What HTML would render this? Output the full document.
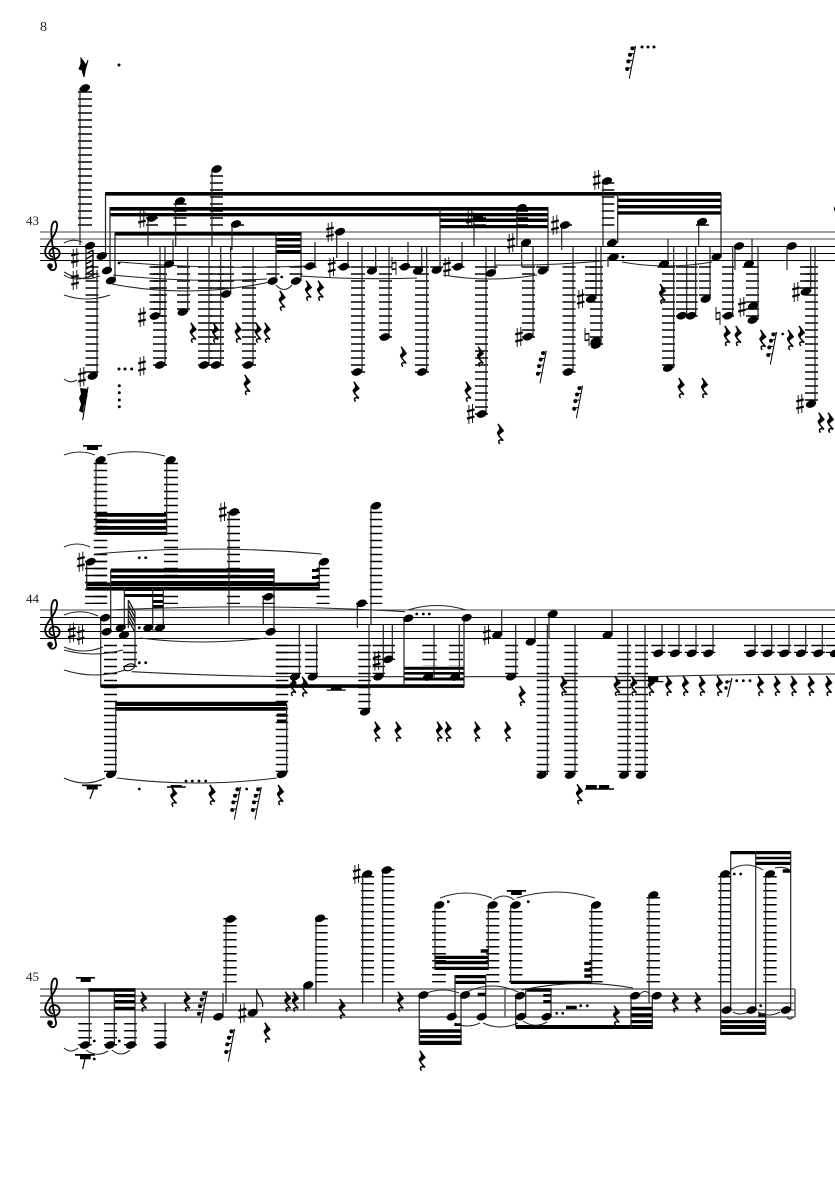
<!DOCTYPE html>
<html><head><meta charset="utf-8"><style>
html,body{margin:0;padding:0;background:#fff}
svg{display:block}
.S{stroke:#444;stroke-width:1;fill:none}
.B{stroke:#000;stroke-width:1;fill:none}
.G{stroke:#666;stroke-width:1.1;fill:none}
.s{stroke:#222;stroke-width:1.2;fill:none}
.L{stroke:#000;stroke-dasharray:1.5 5.5;fill:none}
.t{stroke:#222;stroke-width:1.05;fill:none}
.b{fill:#000;stroke:none}
text{font-family:"Liberation Serif",serif;fill:#222}
</style></head><body>
<svg xmlns="http://www.w3.org/2000/svg" width="835" height="1181" viewBox="0 0 835 1181">
<defs>
<g id="n"><ellipse rx="5.3" ry="3.6" transform="rotate(-20)"/></g>
<g id="h"><ellipse rx="5.4" ry="3.1" transform="rotate(-20)" fill="none" stroke="#000" stroke-width="1.1"/></g>
<g id="r"><path d="M-2-10L3.2-3.2C1.2-1.2-2-.4-1 1.8L3.2 6.6C.4 5.2-3 6-.2 10" fill="none" stroke="#000" stroke-width="1.5"/><path d="M-2-9L3.6-3C1.5-1-1 0-.5 2L3 6C-.5 3.5-3.8 0-3-1.8-2-3.8.8-3.4-2-9z"/></g>
<g id="x"><path d="M-1.8-9V10M1.8-10V9" stroke="#000" stroke-width=".9" fill="none"/><path d="M-3.8-2.6L3.8-4.6M-3.8 4.6L3.8 2.6" stroke="#000" stroke-width="2.2" fill="none"/></g>
<g id="y"><path d="M-2-9V4M2-4V9" stroke="#000" stroke-width=".9" fill="none"/><path d="M-2-2.6L2-3.6M-2 3.6L2 2.6" stroke="#000" stroke-width="1.5" fill="none"/></g>
<g id="q"><path d="M4.6-16L-1.7 16.6" stroke="#000" stroke-width="1" fill="none"/><path d="M1-14L4-15M-1.6-7.7L2.6-8.5M-3.3-1L1.2-1.8M-4.3 6.6L0 5.8" stroke="#000" stroke-width="1" fill="none"/><circle cx="1.4" cy="-13.6" r="2"/><circle cx="-1" cy="-7.2" r="2"/><circle cx="-2.7" cy="-.6" r="2"/><circle cx="-3.8" cy="7" r="2"/></g>
<g id="c"><path d="M0 4C-5 3-5-4 1-5 8-5 9 5 1 6-7 7-10 0-6-7-3-13 3-18 4-26 4.5-32 1-34-1-28-3-22 0 0 3 12 4 18-3 19-4 14" fill="none" stroke="#000" stroke-width="1.8"/><circle cx="-3" cy="13" r="2.8"/></g>
</defs>
<rect width="835" height="1181" fill="#fff"/>
<text x="40" y="31" font-size="14">8</text>
<text x="26" y="225" font-size="13">43</text>
<text x="26" y="603" font-size="13">44</text>
<text x="26" y="981" font-size="13">45</text>
<!-- staves -->
<path class="S" d="M40 232H835M40 239H835"/>
<path class="B" d="M40 246.5H835M40 253.5H835M40 260.5H835"/>
<path class="S" d="M40 610H835"/>
<path class="B" d="M40 617.5H835M40 624.5H835M40 631.5H835M40 638.5H835"/>
<path class="G" d="M40 989H795M40 996H795M40 1003H795M40 1010H795M40 1017H795M795 989V1017M505 989V1017" style="stroke-width:1.6"/>
<use href="#c" x="53" y="253"/><use href="#c" x="53" y="631.5"/><use href="#c" x="53" y="1010"/>
<!-- ledger system 1 -->
<g class="L">
<path stroke-width="14" d="M85 91.3V226"/><path stroke-width="12" d="M152 217.3V226"/><path stroke-width="13" d="M180 203.3V226"/><path stroke-width="13" d="M216.5 175.3V226"/><path stroke-width="13" d="M237.5 224.3V226"/>
<path stroke-width="13" d="M92 266.3V373"/><path stroke-width="15" d="M157 266.3V317"/><path stroke-width="14" d="M160 266.3V366"/><path stroke-width="13" d="M183.5 266.3V310"/><path stroke-width="14" d="M205 266.3V366"/><path stroke-width="14" d="M217 266.3V366"/><path stroke-width="16" d="M226 266.3V289"/><path stroke-width="14" d="M249 266.3V366"/>
<path stroke-width="14" d="M358 266.3V373"/><path stroke-width="13" d="M385.5 266.3V338"/><path stroke-width="14" d="M422 266.3V373"/><path stroke-width="13" d="M481.5 266.3V415"/><path stroke-width="13" d="M528.5 266.3V338"/><path stroke-width="13" d="M569 266.3V373"/><path stroke-width="12" d="M591 266.3V296"/><path stroke-width="13" d="M596.5 266.3V345"/>
<path stroke-width="13" d="M668.5 266.3V366"/><path stroke-width="12" d="M682 266.3V317"/><path stroke-width="12" d="M691.7 266.3V317"/><path stroke-width="12" d="M705 266.3V296"/><path stroke-width="12" d="M728 266.3V317"/><path stroke-width="13" d="M752.5 266.3V317"/><path stroke-width="13" d="M806.5 266.3V289"/><path stroke-width="13" d="M811.5 266.3V401"/>
<path stroke-width="13" d="M479.5 217.3V226"/><path stroke-width="12" d="M522 210.3V226"/><path stroke-width="12.6" d="M608 182.3V226"/><path stroke-width="12" d="M566 224.3V226"/><path stroke-width="13" d="M702.5 224.3V226"/>
<path stroke-width="13" d="M273 266.3V275M296 266.3V275"/><path stroke-width="13" d="M310 266.3V268M344 266.3V268M372 266.3V268M405 266.3V268M418 266.3V268M436.7 266.3V268M458 266.3V268M491 266.3V268M542.7 266.3V268M664 266.3V268M749 266.3V268"/>
</g>
<!-- ledger system 2 -->
<g class="L">
<path stroke-width="13.5" d="M100.5 462.8V604"/><path stroke-width="14" d="M171 462.8V604"/><path stroke-width="22" d="M96 560.8V604"/><path stroke-width="13" d="M323 567.8V604"/><path stroke-width="13" d="M233.5 511.8V604"/><path stroke-width="13" d="M268.5 595.8V604"/><path stroke-width="12.5" d="M376 511.8V604"/><path stroke-width="12" d="M362 602.8V604"/>
<path stroke-width="13" d="M110.5 644.8V772"/><path stroke-width="12.5" d="M282 644.8V772"/><path stroke-width="14" d="M130 644.8V667"/><path stroke-width="25" d="M288.7 644.8V674"/><path stroke-width="13" d="M311.5 644.8V674"/><path stroke-width="12.5" d="M364.5 644.8V709"/><path stroke-width="12.5" d="M378.8 644.8V674"/><path stroke-width="13" d="M388.5 644.8V660"/><path stroke-width="13" d="M511.7 644.8V674"/><path stroke-width="12.5" d="M543 644.8V772"/><path stroke-width="13.5" d="M571 644.8V772"/><path stroke-width="13.3" d="M624.3 644.8V772"/><path stroke-width="13" d="M641.5 644.8V772"/>
<path stroke-width="14.4" d="M429.5 644.8V666"/><path stroke-width="14" d="M456 644.8V666"/>
<path stroke-width="14" d="M658.3 644.8V653M675 644.8V653M691.7 644.8V653M708.3 644.8V653M751 644.8V653M767.7 644.8V653M784.3 644.8V653M801 644.8V653M818.3 644.8V653M833 644.8V653"/>
</g>
<!-- ledger system 3 -->
<g class="L">
<path stroke-width="13.4" d="M230 918V982.4"/><path stroke-width="12.7" d="M321.3 918V982.4"/><path stroke-width="13" d="M367.5 876V982.4"/><path stroke-width="12.6" d="M388 869V982.4"/>
<path stroke-width="13.7" d="M439 911V982.4"/><path stroke-width="13.3" d="M492.7 911V982.4"/><path stroke-width="13.3" d="M515.7 911V982.4"/><path stroke-width="13.3" d="M596 911V982.4"/><path stroke-width="13.3" d="M653.3 897V982.4"/><path stroke-width="12.7" d="M724.7 876V982.4"/><path stroke-width="13.3" d="M770 876V982.4"/>
<path stroke-width="13.4" d="M85 1023V1046"/><path stroke-width="13" d="M110.5 1023V1046"/><path stroke-width="12.7" d="M130.5 1023V1046"/><path stroke-width="12.7" d="M160.5 1023V1046"/>
</g>
<!-- beams -->
<path class="b" d="M105 192h616v3.6H105zM618 198.6h103v3.4H618zM618 205h103v3.4H618zM618 211.2h103v3.4H618z
M110 207h438v3.6H110zM110 213h438v3.4H110zM440 218.5h108v3.5H440zM440 225h108v3.2H440z
M115 232h186v3.6H115zM276 238h25v3.4h-25zM276 244.4h25v3.4h-25zM276 250h25v3.6h-25z
M96 513h70.7v3.7H96zM96 519.4h70.7v3.8H96zM96 526h70.7v3.8H96zM96 531.7h70.7v3.3H96z
M110.7 568.5h164v4h-164zM110.7 575h164v3.4h-164zM110.7 581h164v2h-164zM86.7 582.5H320v3.8H86.7zM86.7 587H320v3.6H86.7zM312 569h7.3v3h-7.3zM312 576h7.3v3h-7.3z
M124.3 588h39v3h-39zM124.3 594h39v3h-39zM152.7 600h10.6v3h-10.6zM152.7 605h10.6v3h-10.6z
M100.7 684.3H464v3.6H100.7zM404 666.7h60v3h-60zM404 672h60v2.6h-60zM404 677.5h60v3h-60z
M115.7 701.7h171v4.3h-171zM115.7 707h171v3.7h-171zM277 713.5h9.7v3.2H277zM277 719.5h9.7v3.2H277z
M88.3 988.3H135v3.4H88.3zM114.3 994H135v3.3h-20.7zM114.3 1000H135v3.3h-20.7zM114.3 1006.7H135v3.3h-20.7z
M419.3 1029.3h42.4v3.4h-42.4zM419.3 1035h42.4v3.3h-42.4zM419.3 1040.7h42.4v4.3h-42.4zM455 975h30.7v3.3H455zM455 980.7h30.7v3.3H455zM477.7 992.7h8v3.3h-8zM454.3 1023.3h7.4v2.7h-7.4z
M435 955.7h53.3v3.3H435zM435 960.7h53.3v3.6H435zM435 966.7h53.3v3.3H435zM480.7 949.3h7.6v3.4h-7.6z
M510.7 980.7h81v3.3h-81zM584.3 961.7h7.4v3.3h-7.4zM584.3 968.3h7.4v3.4h-7.4zM584.3 974.3h7.4v3.4h-7.4z
M515.7 1025h137v4h-137zM526.7 988.3h25v3.4h-25zM543.3 994h7.7v2.7h-7.7zM543.3 1000h7.7v3h-7.7zM631 1006.7h21.7v3.3H631zM631 1013.3h21.7v3.4H631zM631 1020h21.7v3.3H631z
M730.7 851h60v3.3h-60zM755.7 856.7h35v2.6h-35zM755.7 861.7h35v3.3h-35zM782.7 869.3h8v3.4h-8z
M720.7 1020h45v3.3h-45zM720.7 1025h45v4h-45zM720.7 1031.7h45v3.3h-45zM758.3 1013.3h7.7v3.4h-7.7z
M83 445h19v1.6H83zM87 446.5h11v3.5H87zM82 784.5h19.7v1.6H82zM86.7 786h11v3.5h-11zM167 786.3h18.7v1.4H167zM170.7 785h11v2h-11zM326.7 689.5h19v1.3h-19zM331 687.7h10.7v2h-10.7zM648 677h10.3v4H648zM648 681h15.3v1.3H648zM586 785h10.7v3.3H586zM599 785h10.3v3.3H599zM585 788.3h29v1.4h-29zM76 977h19v1.6H76zM80.7 978.5h10v3.5h-10zM75 1054h20v1.7H75zM80 1055.7h10.7v3.6H80zM506.7 890h19.3v1.7h-19.3zM511 891.7h10.7v3.3H511zM566 1005.7h10.7v3.6H566z"/>
<path d="M94 788L90 799M85 1059L82.7 1069" stroke="#000" stroke-width="1.2" fill="none"/>
<!-- stems -->
<path class="s" d="M80 88V245M105.5 193V257M110 207V271M115 232V281M148 218V246M160 316V246M165 365V246M173 264V240M175.7 201V246M187.7 312V246M212 169V246M209 365V246M220.7 365V246M230.7 294V246M232 224V250M253 365V246M276 232V281M301 232V281M315 266V242M336.7 232V258M348 267V242M362 372V246M375.7 271V246M389 337V246M408 267V242M421.7 271V246M426.7 372V246M440 207V270M462 267V242M474 217V246M486 414V246M495 273V246M517 208V246M521.7 243V267M533 337V246M548 207V271M561.7 225V250M573 372V246M596 299V246M601 345V246M603 181V246M608 257V267M617.7 193V243M668 264V239M673.7 368V246M686.7 316V246M695.7 316V246M710 299V246M698.7 222V246M721 193V257M732.7 316V246M735 246V270M752 264V239M758 320V246M787 246V270M810.7 292V246M815 404V246M97 376V270M86 246V278"/>
<path class="s" d="M96 460V535M166.7 460V535M86.7 562V590M110.7 570V632M100.7 617V687M124.3 628V588M152.7 628V588M163.3 628V588M135 667V612M128.3 600V628M229 512V624.5M263.3 597V624M274 632V570M319.3 562V590M299.3 677V624.5M316.7 677V624.5M286.7 774V704M115.7 774V702M357.3 603V628M371 506V624.5M369 712V624.5M383.3 677V624.5M392.3 659V624.5M404 618V688M434 677V624.5M459.3 677V624.5M464 618V687M501.7 635V610.5M515.7 677V624.5M535 642V617M547.3 775V625M549 614V638M575 775V625M612 635V610.5M627.7 775V625M645 775V625M662 653V625M679 653V625M696 653V625M713 653V625M755 653V625M771.7 653V625M789 653V625M805.7 653V625M822.3 653V625"/>
<path class="s" d="M89.3 988V1045M114.3 988V1045M135 988V1045M165 1045V1003M223 1017V993M226 919V1003M256.7 1013V989M304 985V1010M316 918V1003M362.7 874V1003M382.7 870V1003M419.3 995V1045M455 1017V975M461 995V1045M485.7 1017V975M435 905V970M488.3 905V970M510.7 905V982M591.7 905V983M515.7 995V1027M525.7 1017V988M551 1017V988M631 995V1029M652.3 995V1029M649 895V1003M720.7 874V1035M730.7 1010V851M755.7 1010V851M765.7 874V1035M790.7 1010V851"/>
<path d="M256.7 990C258 997 264 999 262.5 1007" stroke="#000" stroke-width="1.2" fill="none"/>
<!-- hatched flags -->
<path d="M86 254L93 250M86 259L93 255M86 264L93 260M86 269L93 265M86 274L93 270M86 278L93 275M93 250V278" stroke="#000" stroke-width="1.4" fill="none"/>
<path d="M128.3 600L135 612M128.3 605L135 617M128.3 610L135 622M128.3 615L135 627M128.3 620L135 632" stroke="#222" stroke-width="1.4" fill="none"/>
<!-- ties -->
<g class="t">
<path d="M64 243Q73 238 82 242M64 272Q82 283 100 276M64 275Q77 284 97 273M64 295Q87 303 110 295M64 379Q70 384 77 380"/>
<path d="M120 262Q212 270 305 266M113 275Q190 283 267 279M112 284Q190 299 270 282M276 285Q284 294 292 285M300 276Q358 280 417 278M443 275Q490 283 537 275M495 265Q553 266 612 260M622 262Q667 270 712 262"/>
<path d="M64 615Q81 608 98 616M64 647Q83 655 103 647M64 650Q93 658 123 650M64 670Q95 680 125 670M64 455Q80 449 95 455M64 547Q77 541 90 547M64 778Q85 788 105 778M107 455Q136 448 165 456M116.7 778Q197 788 276.7 778M95 554Q208 544 321.7 554M110 610Q258 603 405 611.7M140 638Q203 646 266 638M149 628Q154 632 159 628M131.7 671.7Q212 676 293 676.7M317 676.7H404M464 676.7H650M648 676.7Q742 674 835 674M408 610Q437 601 466 610"/>
<path d="M64 1048Q71 1054 78 1048M86 1050Q97 1058 108 1051M112 1050Q121 1058 130 1050M440 898Q466 888 492 898M493.3 900Q504 892 514.3 900M516.7 898Q556 886 595 898M426.7 993Q443 987 459 993M466.7 992Q492 980 518 992M521.7 990Q577 978 633 988M455 1023Q467 1029 480 1023M483 1023Q500 1031 518 1023M523 1021Q535 1029 547 1022M640 994Q645 989 650 994M733 1012Q740 1016 748 1012M758 1012Q769 1018 780 1012M730 870Q746 860 763 870M775 868Q783 866 790 870M787 1017Q790 1021 793 1017"/>
</g>
<!-- accidentals -->
<g>
<use href="#x" x="75" y="258"/><use href="#x" x="75" y="280"/><use href="#x" x="82" y="377"/><use href="#x" x="142" y="218"/><use href="#x" x="142" y="317"/><use href="#x" x="142" y="366"/><use href="#x" x="330" y="232"/><use href="#x" x="331.7" y="267"/><use href="#y" x="394" y="266"/><use href="#x" x="447" y="267"/><use href="#x" x="470" y="218"/><use href="#x" x="470.7" y="414"/><use href="#x" x="511" y="243"/><use href="#x" x="519" y="337"/><use href="#x" x="555" y="225"/><use href="#x" x="580.7" y="299"/><use href="#y" x="587" y="337"/><use href="#x" x="596.7" y="180"/><use href="#y" x="718" y="316"/><use href="#x" x="742" y="307"/><use href="#x" x="796" y="292"/><use href="#x" x="800" y="404"/>
<use href="#x" x="71.7" y="632.7"/><use href="#x" x="80.7" y="635"/><use href="#x" x="81" y="561.7"/><use href="#x" x="222.7" y="512"/><use href="#x" x="376.7" y="660.7"/><use href="#x" x="486.7" y="635"/>
<use href="#x" x="242.3" y="1013.3"/><use href="#x" x="356.7" y="874"/>
</g>
<!-- notes system 1 -->
<g>
<use href="#n" x="85" y="88"/><use href="#n" x="90" y="245.7"/><use href="#n" x="92.7" y="376"/><use href="#n" x="101.7" y="256"/><use href="#n" x="107" y="270.5"/><use href="#n" x="111" y="280.5"/><use href="#n" x="152" y="218"/><use href="#n" x="155" y="316"/><use href="#n" x="160" y="365"/><use href="#n" x="169" y="264"/><use href="#n" x="180" y="201"/><use href="#n" x="182.7" y="312"/><use href="#n" x="216.7" y="169"/><use href="#n" x="204" y="365"/><use href="#n" x="216" y="365"/><use href="#n" x="226" y="294"/><use href="#n" x="236" y="224"/><use href="#n" x="248" y="365"/><use href="#n" x="272.7" y="281"/><use href="#n" x="296" y="281"/><use href="#n" x="310" y="266"/><use href="#n" x="340" y="231.7"/><use href="#n" x="344" y="266.7"/><use href="#n" x="357" y="372"/><use href="#n" x="372" y="270.7"/><use href="#n" x="385" y="337"/><use href="#n" x="405" y="266.7"/><use href="#n" x="418" y="270.7"/><use href="#n" x="422" y="372"/><use href="#n" x="436.7" y="270"/><use href="#n" x="458" y="266.7"/><use href="#n" x="478" y="217"/><use href="#n" x="481.7" y="414"/><use href="#n" x="491" y="273"/><use href="#n" x="521.7" y="207.7"/><use href="#n" x="526" y="242.7"/><use href="#n" x="528" y="336.7"/><use href="#n" x="542.7" y="270.7"/><use href="#n" x="565" y="225"/><use href="#n" x="568" y="372"/><use href="#n" x="591" y="299"/><use href="#n" x="595.7" y="341"/><use href="#n" x="596" y="345"/><use href="#n" x="607" y="181"/><use href="#n" x="612" y="243"/><use href="#n" x="613.6" y="257"/><use href="#n" x="664" y="264"/><use href="#n" x="668" y="368"/><use href="#n" x="681.7" y="315.7"/><use href="#n" x="691" y="315.7"/><use href="#n" x="705.7" y="299"/><use href="#n" x="702" y="221.7"/><use href="#n" x="716.7" y="256.7"/><use href="#n" x="728" y="315.7"/><use href="#n" x="739" y="246"/><use href="#n" x="749" y="264"/><use href="#n" x="753" y="306"/><use href="#n" x="752.7" y="320"/><use href="#n" x="791.7" y="246"/><use href="#n" x="805.7" y="291.7"/><use href="#n" x="811" y="404"/><use href="#n" x="839" y="208"/>
</g>
<!-- notes system 2 -->
<g>
<use href="#n" x="100.7" y="460"/><use href="#n" x="170.7" y="460"/><use href="#n" x="90.7" y="561.7"/><use href="#n" x="105" y="617.7"/><use href="#n" x="106.7" y="631.7"/><use href="#n" x="120.7" y="627.7"/><use href="#n" x="124" y="635"/><use href="#n" x="148.3" y="627.7"/><use href="#n" x="160" y="627.7"/><use href="#h" x="129.3" y="667.3"/><use href="#n" x="324" y="561.7"/><use href="#n" x="234" y="512"/><use href="#n" x="268.3" y="596.7"/><use href="#n" x="270.7" y="631.7"/><use href="#n" x="295" y="676.7"/><use href="#n" x="312.7" y="676.7"/><use href="#n" x="281.7" y="774.3"/><use href="#n" x="111" y="774.3"/><use href="#n" x="361.7" y="603.3"/><use href="#n" x="376" y="505.7"/><use href="#n" x="365" y="711.7"/><use href="#n" x="378.3" y="676.7"/><use href="#n" x="388.3" y="659.3"/><use href="#n" x="408.3" y="618.3"/><use href="#n" x="428" y="677"/><use href="#n" x="455" y="677"/><use href="#n" x="466.7" y="617.7"/><use href="#n" x="497.3" y="635"/><use href="#n" x="511" y="676.7"/><use href="#n" x="530.7" y="641.7"/><use href="#n" x="541.7" y="775"/><use href="#n" x="552.7" y="614"/><use href="#n" x="570" y="775"/><use href="#n" x="607.7" y="635"/><use href="#n" x="624" y="775"/><use href="#n" x="641" y="775"/>
<use href="#n" x="658.3" y="653.3"/><use href="#n" x="675" y="653.3"/><use href="#n" x="691.7" y="653.3"/><use href="#n" x="708.3" y="653.3"/><use href="#n" x="751" y="653.3"/><use href="#n" x="767.7" y="653.3"/><use href="#n" x="784.3" y="653.3"/><use href="#n" x="801" y="653.3"/><use href="#n" x="818.3" y="653.3"/><use href="#n" x="835" y="653.3"/>
</g>
<!-- notes system 3 -->
<g>
<use href="#n" x="85" y="1045"/><use href="#n" x="110" y="1045"/><use href="#n" x="131" y="1045"/><use href="#n" x="160.7" y="1045"/><use href="#n" x="218.3" y="1016.7"/><use href="#n" x="230.7" y="919"/><use href="#n" x="252.7" y="1012.7"/><use href="#n" x="308.3" y="985"/><use href="#n" x="320" y="918.3"/><use href="#n" x="367.3" y="874"/><use href="#n" x="386.7" y="870"/>
<use href="#n" x="423.3" y="995"/><use href="#n" x="451.7" y="1016.7"/><use href="#n" x="465" y="995"/><use href="#n" x="481.7" y="1016.7"/><use href="#n" x="439.3" y="905"/><use href="#n" x="492.7" y="905"/><use href="#n" x="515.7" y="905"/><use href="#n" x="596" y="905"/><use href="#n" x="520" y="995.7"/><use href="#n" x="521" y="1016.7"/><use href="#n" x="546.7" y="1016.7"/><use href="#n" x="635" y="995.7"/><use href="#n" x="656.7" y="995.7"/><use href="#n" x="653.3" y="895"/><use href="#n" x="725" y="874"/><use href="#n" x="726.7" y="1010"/><use href="#n" x="751.7" y="1010"/><use href="#n" x="770" y="874"/><use href="#n" x="786" y="1010"/>
</g>
<!-- rests -->
<g>
<use href="#r" x="281.7" y="300.7"/><use href="#r" x="308" y="290.7"/><use href="#r" x="320" y="290.7"/><use href="#r" x="192.7" y="332.7"/><use href="#r" x="215" y="332.7"/><use href="#r" x="237.7" y="332.7"/><use href="#r" x="257.7" y="332.7"/><use href="#r" x="266.7" y="332.7"/><use href="#r" x="246.7" y="385"/><use href="#r" x="355.7" y="391.7"/><use href="#r" x="403" y="356.7"/><use href="#r" x="480" y="356.7"/><use href="#r" x="467.7" y="391.7"/><use href="#r" x="500" y="434"/><use href="#r" x="662" y="294"/><use href="#r" x="680.7" y="388"/><use href="#r" x="704" y="388"/><use href="#r" x="726.7" y="336"/><use href="#r" x="737.7" y="336"/><use href="#r" x="762.4" y="340"/><use href="#r" x="790" y="340"/><use href="#r" x="801" y="336"/><use href="#r" x="820.7" y="422.7"/><use href="#r" x="830" y="422.7"/>
<use href="#r" x="292.7" y="686"/><use href="#r" x="304" y="686.7"/><use href="#r" x="173.3" y="796.7"/><use href="#r" x="211.7" y="795"/><use href="#r" x="280" y="795"/><use href="#r" x="376.7" y="731.7"/><use href="#r" x="397.7" y="731.7"/><use href="#r" x="563.3" y="686"/><use href="#r" x="616.7" y="686"/><use href="#r" x="633.3" y="686"/><use href="#r" x="650.7" y="686"/><use href="#r" x="668.3" y="686"/><use href="#r" x="685" y="686"/><use href="#r" x="701.7" y="686"/><use href="#r" x="719" y="686"/><use href="#r" x="760" y="686"/><use href="#r" x="776.7" y="686"/><use href="#r" x="793.3" y="686"/><use href="#r" x="810.7" y="686"/><use href="#r" x="828.3" y="686"/><use href="#r" x="521.7" y="696"/><use href="#r" x="439" y="731.7"/><use href="#r" x="447.7" y="731.7"/><use href="#r" x="476.7" y="731.7"/><use href="#r" x="507.3" y="731.7"/><use href="#r" x="579" y="794.3"/>
<use href="#r" x="143.3" y="1001.7"/><use href="#r" x="186.7" y="1001.7"/><use href="#r" x="266.7" y="1032.7"/><use href="#r" x="287.3" y="1001.7"/><use href="#r" x="295" y="1001.7"/><use href="#r" x="341.7" y="1009"/><use href="#r" x="400" y="1001.7"/><use href="#r" x="421.7" y="1060.7"/><use href="#r" x="616" y="1015.7"/><use href="#r" x="675" y="1002.3"/><use href="#r" x="697.3" y="1002.3"/>
<use href="#q" x="631" y="62"/><use href="#q" x="541.7" y="366.7"/><use href="#q" x="578" y="401.7"/><use href="#q" x="772" y="348"/><use href="#q" x="236" y="803"/><use href="#q" x="256.7" y="803"/><use href="#q" x="202.7" y="1006.7"/><use href="#q" x="230" y="1045"/>
<!-- compact clustered rests -->
<path d="M81 58L86 65L88 60L85 71L84 77L82 70L79 69L81 64z" stroke="#000" stroke-width="1"/>
<path d="M88 387L82.7 420" stroke="#000" stroke-width="1.1" fill="none"/>
<path d="M80 388L88 389L87 398L84 406L83 413L79 411L81 404L79 398L81 394z"/>
<path d="M732 678L727.5 697M726 682L731 681" stroke="#000" stroke-width="1.1" fill="none"/><circle cx="727" cy="682" r="1.7"/><circle cx="726" cy="688" r="1.7"/>
</g>
<!-- dots -->
<g>
<circle cx="119" cy="65" r="1.5"/><circle cx="642" cy="47" r="1.5"/><circle cx="648" cy="47" r="1.5"/><circle cx="654" cy="47" r="1.5"/>
<circle cx="119" cy="369" r="1.5"/><circle cx="125" cy="369" r="1.5"/><circle cx="131.7" cy="369" r="1.5"/><circle cx="119.3" cy="385.7" r="1.5"/><circle cx="119.3" cy="392.7" r="1.5"/><circle cx="119.3" cy="400" r="1.5"/><circle cx="119.3" cy="406.7" r="1.5"/><circle cx="119" cy="263" r="1.4"/><circle cx="281.7" cy="277" r="1.4"/><circle cx="623" cy="257" r="1.4"/><circle cx="782.7" cy="334" r="1.4"/>
<circle cx="139.3" cy="557.7" r="1.4"/><circle cx="145.7" cy="557.7" r="1.4"/><circle cx="139.3" cy="662.7" r="1.4"/><circle cx="145.7" cy="662.7" r="1.4"/><circle cx="139.3" cy="627.7" r="1.4"/><circle cx="139.3" cy="789" r="1.4"/><circle cx="186" cy="781" r="1.4"/><circle cx="192.3" cy="781" r="1.4"/><circle cx="199" cy="781" r="1.4"/><circle cx="205.7" cy="781" r="1.4"/><circle cx="246.7" cy="789" r="1.4"/><circle cx="416.7" cy="614" r="1.4"/><circle cx="423.3" cy="614" r="1.4"/><circle cx="429.3" cy="614" r="1.4"/><circle cx="736.7" cy="680.7" r="1.4"/><circle cx="743.3" cy="680.7" r="1.4"/><circle cx="750" cy="680.7" r="1.4"/>
<circle cx="94.3" cy="1041" r="1.4"/><circle cx="119.3" cy="1041" r="1.4"/><circle cx="94.3" cy="1059" r="1.4"/><circle cx="448.3" cy="901.7" r="1.4"/><circle cx="528.3" cy="901.7" r="1.4"/><circle cx="556.7" cy="1013.3" r="1.4"/><circle cx="562.7" cy="1013.3" r="1.4"/><circle cx="580.7" cy="1005.7" r="1.4"/><circle cx="587.3" cy="1005.7" r="1.4"/><circle cx="734.3" cy="874" r="1.4"/><circle cx="740.7" cy="874" r="1.4"/><circle cx="760.7" cy="1005.7" r="1.4"/>
</g>
</svg>
</body></html>
